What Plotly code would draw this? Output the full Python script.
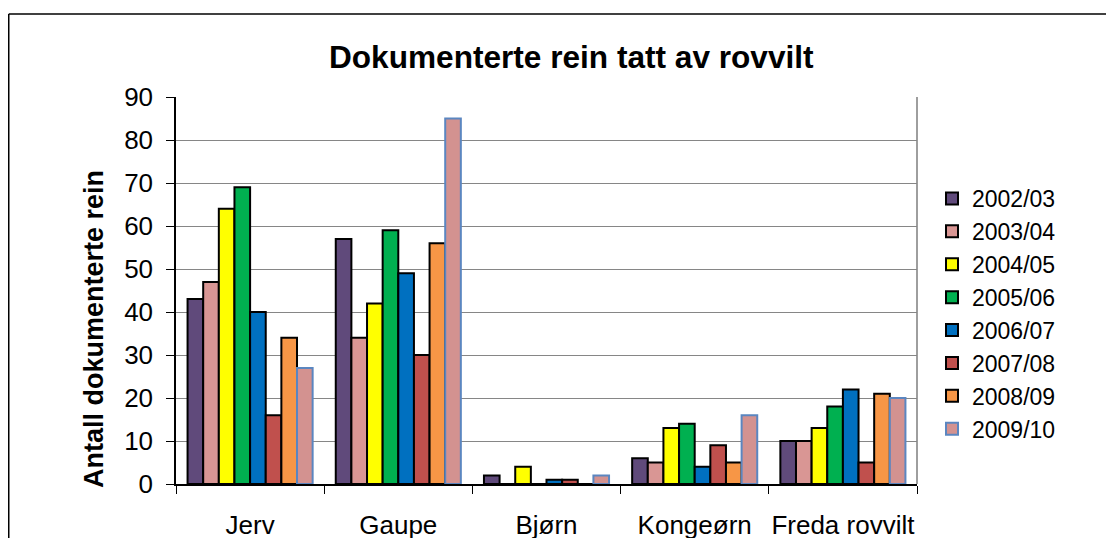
import plotly.graph_objects as go

categories = ["Jerv", "Gaupe", "Bjørn", "Kongeørn", "Freda rovvilt"]
seasons = ["2002/03", "2003/04", "2004/05", "2005/06", "2006/07", "2007/08", "2008/09", "2009/10"]
v_2002_03 = [43, 57, 2, 6, 10]
v_2003_04 = [47, 34, 0, 5, 10]
v_2004_05 = [64, 42, 4, 13, 13]
v_2005_06 = [69, 59, 0, 14, 18]
v_2006_07 = [40, 49, 1, 4, 22]
v_2007_08 = [16, 30, 1, 9, 5]
v_2008_09 = [34, 56, 0, 5, 21]
v_2009_10 = [27, 85, 2, 16, 20]
values = [v_2002_03, v_2003_04, v_2004_05, v_2005_06, v_2006_07, v_2007_08, v_2008_09, v_2009_10]

fill_colors = ["#604A7B", "#D99694", "#FFFF00", "#00B050", "#0070C0", "#C0504D", "#F79646", "#D39290"]
line_colors = ["#000000"] * 7 + ["#5B86C0"]

FONT = "Liberation Sans, Arial, sans-serif"

fig = go.Figure()
for s, vals, fc, lc in zip(seasons, values, fill_colors, line_colors):
    fig.add_trace(go.Bar(
        name=s, x=categories, y=vals,
        marker=dict(color=fc, line=dict(color=lc, width=2)),
        legendgroup=s,
    ))

# the page body has an 8px margin, so the figure is drawn 8px right/down
OFF = 8
FW, FH = 1114, 538
L, T = 176 - OFF, 97 - OFF
R, B = FW - (917 - OFF), FH - (484 - OFF)
W, H = FW - L - R, FH - T - B

def px_x(px):
    return (px - OFF - L) / W

def px_y(py):
    return (FH - B - (py - OFF)) / H

frame_left = px_x(OFF + 0.75)
frame_right = px_x(1108)
frame_top = px_y(14)
frame_bottom = px_y(OFF + FH)

fig.update_layout(
    width=FW, height=FH,
    margin=dict(l=L, r=R, t=T, b=B, autoexpand=False),
    paper_bgcolor="white", plot_bgcolor="white",
    barmode="group", bargap=0.156, bargroupgap=0,
    font=dict(family=FONT, color="black", size=24),
    showlegend=True,
    legend=dict(
        x=px_x(932), xanchor="left", y=px_y(314), yanchor="middle",
        font=dict(family=FONT, size=23, color="black"),
        bgcolor="rgba(0,0,0,0)", tracegroupgap=0,
        itemclick=False, itemdoubleclick=False,
    ),
    xaxis=dict(
        type="category", showgrid=False, showline=True, linecolor="black", linewidth=1.5,
        ticks="outside", tickson="boundaries", ticklen=8, tickcolor="black", tickwidth=1.2,
        tickangle=0,
        tickfont=dict(family=FONT, size=26, color="black"), ticklabelstandoff=17,
        fixedrange=True,
    ),
    yaxis=dict(
        range=[0, 90], dtick=10, showgrid=True, gridcolor="#868686", gridwidth=1.4,
        showline=True, linecolor="black", linewidth=1.5, zeroline=False,
        ticks="outside", ticklen=8, tickcolor="black", tickwidth=1.2,
        tickfont=dict(family=FONT, size=26, color="black"), ticklabelstandoff=8,
        fixedrange=True,
    ),
    annotations=[
        dict(text="<b>Dokumenterte rein tatt av rovvilt</b>", xref="paper", yref="paper",
             x=px_x(571), y=px_y(57), xanchor="center", yanchor="middle", showarrow=False,
             font=dict(family=FONT, size=31.6, color="black")),
        dict(text="<b>Antall dokumenterte rein</b>", xref="paper", yref="paper",
             x=px_x(94), y=px_y(329), xanchor="center", yanchor="middle", showarrow=False,
             textangle=-90, font=dict(family=FONT, size=27, color="black")),
    ],
    shapes=[
        dict(type="line", xref="paper", yref="paper", x0=1, x1=1, y0=0, y1=1,
             line=dict(color="#868686", width=1.6), layer="below"),
        dict(type="line", xref="paper", yref="paper", x0=frame_left, x1=frame_right,
             y0=frame_top, y1=frame_top, line=dict(color="black", width=1.5)),
        dict(type="line", xref="paper", yref="paper", x0=frame_left, x1=frame_left,
             y0=frame_bottom, y1=frame_top, line=dict(color="black", width=1.5)),
        dict(type="line", xref="paper", yref="paper", x0=frame_right, x1=frame_right,
             y0=frame_bottom, y1=frame_top, line=dict(color="black", width=1.5)),
    ],
)

fig.write_html("out.html")
